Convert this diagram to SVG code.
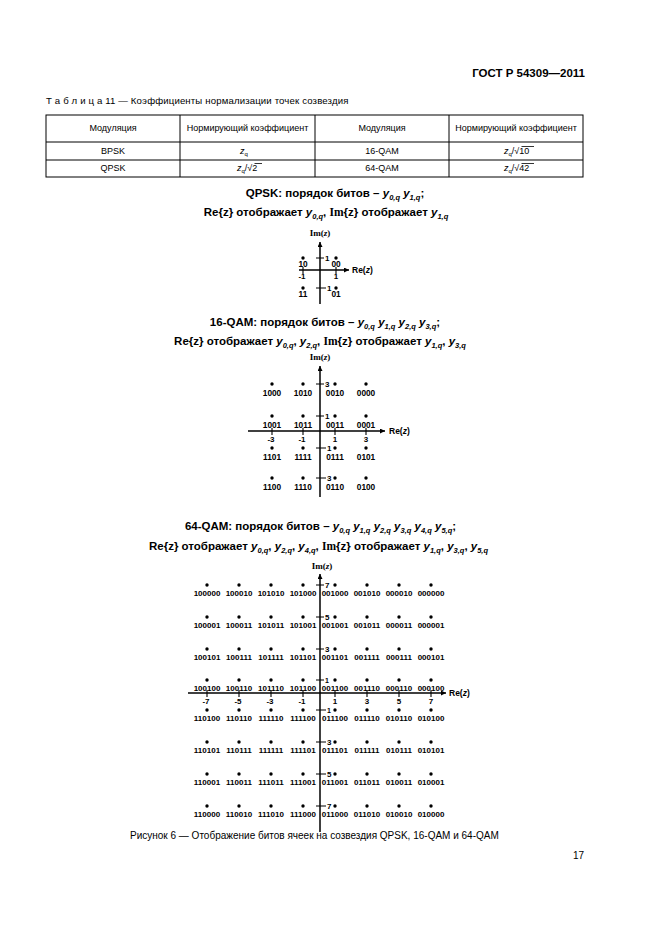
<svg xmlns="http://www.w3.org/2000/svg" width="661" height="936" viewBox="0 0 661 936">
<style>
text{font-family:"Liberation Sans",Arial,sans-serif;fill:#000}
.hdr{font-size:11.5px;font-weight:bold}
.cap{font-size:9.6px}
.th{font-size:9px;text-anchor:middle}
.td{font-size:9px;text-anchor:middle}
.t{font-size:11.5px;font-weight:bold;text-anchor:middle}
.v{font-style:italic}
.s{font-size:7.5px;font-style:italic}
.sr{font-family:"Liberation Serif",serif}
.l{font-size:8.3px;font-weight:bold;text-anchor:middle}
.l64{font-size:8px;font-weight:bold;text-anchor:middle}
.n{font-size:8px;font-weight:bold}
.ns{font-size:7px;font-weight:bold}
.nc{font-size:8px;font-weight:bold;text-anchor:middle}
.im{font-family:"Liberation Serif",serif;font-size:9px;font-weight:bold;text-anchor:middle}
.re{font-size:8.5px;font-weight:bold}
.ax{stroke:#000;stroke-width:1.5;fill:none}
.tk{stroke:#000;stroke-width:1.1}
.tb{stroke:#000;stroke-width:1;fill:none}
circle{fill:#000}
</style>
<defs>
<marker id="ah" viewBox="0 0 10 10" refX="10" refY="5" markerWidth="7" markerHeight="5" orient="auto" markerUnits="userSpaceOnUse"><path d="M0,0 L10,5 L0,10 z" fill="#000"/></marker>
</defs>

<text class="hdr" x="585" y="77" text-anchor="end">ГОСТ Р 54309—2011</text>

<g id="table">
<text class="cap" x="46" y="104" style="letter-spacing:0.15px">Т а б л и ц а  11 — Коэффициенты нормализации точек созвездия</text>
<rect class="tb" x="46" y="115" width="537" height="62"/>
<line class="tb" x1="46" y1="142" x2="583" y2="142"/>
<line class="tb" x1="46" y1="160" x2="583" y2="160"/>
<line class="tb" x1="180" y1="115" x2="180" y2="177"/>
<line class="tb" x1="315" y1="115" x2="315" y2="177"/>
<line class="tb" x1="449" y1="115" x2="449" y2="177"/>
<text class="th" x="113" y="131">Модуляция</text>
<text class="th" x="247.5" y="131">Нормирующий коэффициент</text>
<text class="th" x="382" y="131">Модуляция</text>
<text class="th" x="516" y="131">Нормирующий коэффициент</text>
<text class="td" x="113" y="154">BPSK</text>
<text class="td" x="382" y="154">16-QAM</text>
<text class="td" x="113" y="171">QPSK</text>
<text class="td" x="382" y="171">64-QAM</text>
<text style="font-size:9px" x="240" y="154"><tspan class="v">z</tspan><tspan style="font-size:6px" dy="2">q</tspan></text>
<text style="font-size:9px" x="237" y="171"><tspan class="v">z</tspan><tspan style="font-size:6px" dy="2">q</tspan><tspan dy="-2">/√2</tspan></text>
<line class="tk" x1="254.5" y1="163.5" x2="262" y2="163.5" style="stroke-width:0.8"/>
<text style="font-size:9px" x="504" y="154"><tspan class="v">z</tspan><tspan style="font-size:6px" dy="2">q</tspan><tspan dy="-2">/√10</tspan></text>
<line class="tk" x1="521.5" y1="146.5" x2="534" y2="146.5" style="stroke-width:0.8"/>
<text style="font-size:9px" x="504" y="171"><tspan class="v">z</tspan><tspan style="font-size:6px" dy="2">q</tspan><tspan dy="-2">/√42</tspan></text>
<line class="tk" x1="521.5" y1="163.5" x2="534" y2="163.5" style="stroke-width:0.8"/>
</g>

<g id="qpsk-title">
<text class="t" x="335" y="197">QPSK: порядок битов – <tspan class="v">y</tspan><tspan class="s" dy="2.5">0,q</tspan><tspan dy="-2.5"> </tspan><tspan class="v">y</tspan><tspan class="s" dy="2.5">1,q</tspan><tspan dy="-2.5">;</tspan></text>
<text class="t" x="326" y="216">Re{z} отображает <tspan class="v">y</tspan><tspan class="s" dy="2.5">0,q</tspan><tspan dy="-2.5">,  </tspan><tspan class="sr">Im</tspan>{z} отображает <tspan class="v">y</tspan><tspan class="s" dy="2.5">1,q</tspan></text>
</g>

<g id="connectors">
<line class="ax" x1="320" y1="304" x2="320" y2="242" marker-end="url(#ah)"/>
<line class="ax" x1="299" y1="270" x2="349" y2="270" marker-end="url(#ah)"/>
<line class="ax" x1="320" y1="497" x2="320" y2="366" marker-end="url(#ah)"/>
<line class="ax" x1="248" y1="431" x2="385" y2="431" marker-end="url(#ah)"/>
<line class="ax" x1="320" y1="832" x2="320" y2="574" marker-end="url(#ah)"/>
<line class="ax" x1="188" y1="693" x2="446" y2="693" marker-end="url(#ah)"/>
</g>

<g id="qpsk-axes-labels">
<text class="im" x="320" y="236">Im(<tspan class="v">z</tspan>)</text>
<text class="re" x="352" y="273">Re(<tspan class="v">z</tspan>)</text>
<path class="tk" d="M316,258H324M316,288H326M303,267V274M336,267V274"/>
<text class="n" x="325" y="261">1</text>
<text class="n" x="327" y="291">1</text>
<text class="nc" x="302" y="279">-1</text>
<text class="nc" x="336" y="279">1</text>
</g>
<g id="qpsk-10"><circle cx="303" cy="258" r="1.7"/><text class="l" x="303" y="267">10</text></g>
<g id="qpsk-00"><circle cx="336" cy="258" r="1.7"/><text class="l" x="336" y="267">00</text></g>
<g id="qpsk-11"><circle cx="303" cy="288" r="1.7"/><text class="l" x="303" y="297">11</text></g>
<g id="qpsk-01"><circle cx="336" cy="288" r="1.7"/><text class="l" x="336" y="297">01</text></g>

<g id="qam16-title">
<text class="t" x="325" y="326">16-QAM: порядок битов – <tspan class="v">y</tspan><tspan class="s" dy="2.5">0,q</tspan><tspan dy="-2.5"> </tspan><tspan class="v">y</tspan><tspan class="s" dy="2.5">1,q</tspan><tspan dy="-2.5"> </tspan><tspan class="v">y</tspan><tspan class="s" dy="2.5">2,q</tspan><tspan dy="-2.5"> </tspan><tspan class="v">y</tspan><tspan class="s" dy="2.5">3,q</tspan><tspan dy="-2.5">;</tspan></text>
<text class="t" x="320" y="345">Re{z} отображает <tspan class="v">y</tspan><tspan class="s" dy="2.5">0,q</tspan><tspan dy="-2.5">, </tspan><tspan class="v">y</tspan><tspan class="s" dy="2.5">2,q</tspan><tspan dy="-2.5">, </tspan><tspan class="sr">Im</tspan>{z} отображает <tspan class="v">y</tspan><tspan class="s" dy="2.5">1,q</tspan><tspan dy="-2.5">, </tspan><tspan class="v">y</tspan><tspan class="s" dy="2.5">3,q</tspan></text>
</g>

<g id="qam16-axes-labels">
<text class="im" x="320" y="360">Im(<tspan class="v">z</tspan>)</text>
<text class="re" x="389" y="434">Re(<tspan class="v">z</tspan>)</text>
<path class="tk" d="M316,384H324M316,416H324M316,448H326M316,478H326M272,428V435M303,428V435M335,428V435M366,428V435"/>
<text class="n" x="325" y="387">3</text>
<text class="n" x="325" y="419">1</text>
<text class="n" x="327" y="451">1</text>
<text class="n" x="327" y="481">3</text>
<text class="nc" x="271" y="442">-3</text>
<text class="nc" x="302" y="442">-1</text>
<text class="nc" x="335" y="442">1</text>
<text class="nc" x="366" y="442">3</text>
</g>
<g id="q16-1000"><circle cx="272" cy="384" r="1.7"/><text class="l" x="272" y="396">1000</text></g>
<g id="q16-1010"><circle cx="303" cy="384" r="1.7"/><text class="l" x="303" y="396">1010</text></g>
<g id="q16-0010"><circle cx="335" cy="384" r="1.7"/><text class="l" x="335" y="396">0010</text></g>
<g id="q16-0000"><circle cx="366" cy="384" r="1.7"/><text class="l" x="366" y="396">0000</text></g>
<g id="q16-1001"><circle cx="272" cy="416" r="1.7"/><text class="l" x="272" y="428">1001</text></g>
<g id="q16-1011"><circle cx="303" cy="416" r="1.7"/><text class="l" x="303" y="428">1011</text></g>
<g id="q16-0011"><circle cx="335" cy="416" r="1.7"/><text class="l" x="335" y="428">0011</text></g>
<g id="q16-0001"><circle cx="366" cy="416" r="1.7"/><text class="l" x="366" y="428">0001</text></g>
<g id="q16-1101"><circle cx="272" cy="448" r="1.7"/><text class="l" x="272" y="460">1101</text></g>
<g id="q16-1111"><circle cx="303" cy="448" r="1.7"/><text class="l" x="303" y="460">1111</text></g>
<g id="q16-0111"><circle cx="335" cy="448" r="1.7"/><text class="l" x="335" y="460">0111</text></g>
<g id="q16-0101"><circle cx="366" cy="448" r="1.7"/><text class="l" x="366" y="460">0101</text></g>
<g id="q16-1100"><circle cx="272" cy="478" r="1.7"/><text class="l" x="272" y="490">1100</text></g>
<g id="q16-1110"><circle cx="303" cy="478" r="1.7"/><text class="l" x="303" y="490">1110</text></g>
<g id="q16-0110"><circle cx="335" cy="478" r="1.7"/><text class="l" x="335" y="490">0110</text></g>
<g id="q16-0100"><circle cx="366" cy="478" r="1.7"/><text class="l" x="366" y="490">0100</text></g>

<g id="qam64-title">
<text class="t" x="320.5" y="530">64-QAM: порядок битов – <tspan class="v">y</tspan><tspan class="s" dy="2.5">0,q</tspan><tspan dy="-2.5"> </tspan><tspan class="v">y</tspan><tspan class="s" dy="2.5">1,q</tspan><tspan dy="-2.5"> </tspan><tspan class="v">y</tspan><tspan class="s" dy="2.5">2,q</tspan><tspan dy="-2.5"> </tspan><tspan class="v">y</tspan><tspan class="s" dy="2.5">3,q</tspan><tspan dy="-2.5"> </tspan><tspan class="v">y</tspan><tspan class="s" dy="2.5">4,q</tspan><tspan dy="-2.5"> </tspan><tspan class="v">y</tspan><tspan class="s" dy="2.5">5,q</tspan><tspan dy="-2.5">;</tspan></text>
<text class="t" x="318.5" y="550">Re{z} отображает <tspan class="v">y</tspan><tspan class="s" dy="2.5">0,q</tspan><tspan dy="-2.5">, </tspan><tspan class="v">y</tspan><tspan class="s" dy="2.5">2,q</tspan><tspan dy="-2.5">, </tspan><tspan class="v">y</tspan><tspan class="s" dy="2.5">4,q</tspan><tspan dy="-2.5">, </tspan><tspan class="sr">Im</tspan>{z} отображает <tspan class="v">y</tspan><tspan class="s" dy="2.5">1,q</tspan><tspan dy="-2.5">, </tspan><tspan class="v">y</tspan><tspan class="s" dy="2.5">3,q</tspan><tspan dy="-2.5">, </tspan><tspan class="v">y</tspan><tspan class="s" dy="2.5">5,q</tspan></text>
</g>

<g id="qam64-axes-labels">
<text class="im" x="322" y="569">Im(<tspan class="v">z</tspan>)</text>
<text class="re" x="449" y="696">Re(<tspan class="v">z</tspan>)</text>
<path class="tk" d="M316,585H324M316,617H324M316,649H324M316,680H324M316,710H326M316,742H326M316,774H326M316,806H326M207,690V697M239,690V697M271,690V697M303,690V697M335,690V697M367,690V697M399,690V697M431,690V697"/>
<text class="n" x="325" y="588">7</text>
<text class="n" x="325" y="620">5</text>
<text class="n" x="325" y="652">3</text>
<text class="ns" x="325" y="682.5">1</text>
<text class="ns" x="327" y="712.5">1</text>
<text class="n" x="327" y="745">3</text>
<text class="n" x="327" y="777">5</text>
<text class="n" x="327" y="809">7</text>
<text class="nc" x="206" y="704">-7</text>
<text class="nc" x="238" y="704">-5</text>
<text class="nc" x="270" y="704">-3</text>
<text class="nc" x="302" y="704">-1</text>
<text class="nc" x="335" y="704">1</text>
<text class="nc" x="367" y="704">3</text>
<text class="nc" x="399" y="704">5</text>
<text class="nc" x="431" y="704">7</text>
</g>

<g id="q64-100000"><circle cx="207" cy="585" r="1.7"/><text class="l64" x="207" y="596">100000</text></g>
<g id="q64-100010"><circle cx="239" cy="585" r="1.7"/><text class="l64" x="239" y="596">100010</text></g>
<g id="q64-101010"><circle cx="271" cy="585" r="1.7"/><text class="l64" x="271" y="596">101010</text></g>
<g id="q64-101000"><circle cx="303" cy="585" r="1.7"/><text class="l64" x="303" y="596">101000</text></g>
<g id="q64-001000"><circle cx="335" cy="585" r="1.7"/><text class="l64" x="335" y="596">001000</text></g>
<g id="q64-001010"><circle cx="367" cy="585" r="1.7"/><text class="l64" x="367" y="596">001010</text></g>
<g id="q64-000010"><circle cx="399" cy="585" r="1.7"/><text class="l64" x="399" y="596">000010</text></g>
<g id="q64-000000"><circle cx="431" cy="585" r="1.7"/><text class="l64" x="431" y="596">000000</text></g>

<g id="q64-100001"><circle cx="207" cy="617" r="1.7"/><text class="l64" x="207" y="628">100001</text></g>
<g id="q64-100011"><circle cx="239" cy="617" r="1.7"/><text class="l64" x="239" y="628">100011</text></g>
<g id="q64-101011"><circle cx="271" cy="617" r="1.7"/><text class="l64" x="271" y="628">101011</text></g>
<g id="q64-101001"><circle cx="303" cy="617" r="1.7"/><text class="l64" x="303" y="628">101001</text></g>
<g id="q64-001001"><circle cx="335" cy="617" r="1.7"/><text class="l64" x="335" y="628">001001</text></g>
<g id="q64-001011"><circle cx="367" cy="617" r="1.7"/><text class="l64" x="367" y="628">001011</text></g>
<g id="q64-000011"><circle cx="399" cy="617" r="1.7"/><text class="l64" x="399" y="628">000011</text></g>
<g id="q64-000001"><circle cx="431" cy="617" r="1.7"/><text class="l64" x="431" y="628">000001</text></g>

<g id="q64-100101"><circle cx="207" cy="649" r="1.7"/><text class="l64" x="207" y="660">100101</text></g>
<g id="q64-100111"><circle cx="239" cy="649" r="1.7"/><text class="l64" x="239" y="660">100111</text></g>
<g id="q64-101111"><circle cx="271" cy="649" r="1.7"/><text class="l64" x="271" y="660">101111</text></g>
<g id="q64-101101"><circle cx="303" cy="649" r="1.7"/><text class="l64" x="303" y="660">101101</text></g>
<g id="q64-001101"><circle cx="335" cy="649" r="1.7"/><text class="l64" x="335" y="660">001101</text></g>
<g id="q64-001111"><circle cx="367" cy="649" r="1.7"/><text class="l64" x="367" y="660">001111</text></g>
<g id="q64-000111"><circle cx="399" cy="649" r="1.7"/><text class="l64" x="399" y="660">000111</text></g>
<g id="q64-000101"><circle cx="431" cy="649" r="1.7"/><text class="l64" x="431" y="660">000101</text></g>

<g id="q64-100100"><circle cx="207" cy="680" r="1.7"/><text class="l64" x="207" y="691">100100</text></g>
<g id="q64-100110"><circle cx="239" cy="680" r="1.7"/><text class="l64" x="239" y="691">100110</text></g>
<g id="q64-101110"><circle cx="271" cy="680" r="1.7"/><text class="l64" x="271" y="691">101110</text></g>
<g id="q64-101100"><circle cx="303" cy="680" r="1.7"/><text class="l64" x="303" y="691">101100</text></g>
<g id="q64-001100"><circle cx="335" cy="680" r="1.7"/><text class="l64" x="335" y="691">001100</text></g>
<g id="q64-001110"><circle cx="367" cy="680" r="1.7"/><text class="l64" x="367" y="691">001110</text></g>
<g id="q64-000110"><circle cx="399" cy="680" r="1.7"/><text class="l64" x="399" y="691">000110</text></g>
<g id="q64-000100"><circle cx="431" cy="680" r="1.7"/><text class="l64" x="431" y="691">000100</text></g>

<g id="q64-110100"><circle cx="207" cy="710" r="1.7"/><text class="l64" x="207" y="721">110100</text></g>
<g id="q64-110110"><circle cx="239" cy="710" r="1.7"/><text class="l64" x="239" y="721">110110</text></g>
<g id="q64-111110"><circle cx="271" cy="710" r="1.7"/><text class="l64" x="271" y="721">111110</text></g>
<g id="q64-111100"><circle cx="303" cy="710" r="1.7"/><text class="l64" x="303" y="721">111100</text></g>
<g id="q64-011100"><circle cx="335" cy="710" r="1.7"/><text class="l64" x="335" y="721">011100</text></g>
<g id="q64-011110"><circle cx="367" cy="710" r="1.7"/><text class="l64" x="367" y="721">011110</text></g>
<g id="q64-010110"><circle cx="399" cy="710" r="1.7"/><text class="l64" x="399" y="721">010110</text></g>
<g id="q64-010100"><circle cx="431" cy="710" r="1.7"/><text class="l64" x="431" y="721">010100</text></g>

<g id="q64-110101"><circle cx="207" cy="742" r="1.7"/><text class="l64" x="207" y="753">110101</text></g>
<g id="q64-110111"><circle cx="239" cy="742" r="1.7"/><text class="l64" x="239" y="753">110111</text></g>
<g id="q64-111111"><circle cx="271" cy="742" r="1.7"/><text class="l64" x="271" y="753">111111</text></g>
<g id="q64-111101"><circle cx="303" cy="742" r="1.7"/><text class="l64" x="303" y="753">111101</text></g>
<g id="q64-011101"><circle cx="335" cy="742" r="1.7"/><text class="l64" x="335" y="753">011101</text></g>
<g id="q64-011111"><circle cx="367" cy="742" r="1.7"/><text class="l64" x="367" y="753">011111</text></g>
<g id="q64-010111"><circle cx="399" cy="742" r="1.7"/><text class="l64" x="399" y="753">010111</text></g>
<g id="q64-010101"><circle cx="431" cy="742" r="1.7"/><text class="l64" x="431" y="753">010101</text></g>

<g id="q64-110001"><circle cx="207" cy="774" r="1.7"/><text class="l64" x="207" y="785">110001</text></g>
<g id="q64-110011"><circle cx="239" cy="774" r="1.7"/><text class="l64" x="239" y="785">110011</text></g>
<g id="q64-111011"><circle cx="271" cy="774" r="1.7"/><text class="l64" x="271" y="785">111011</text></g>
<g id="q64-111001"><circle cx="303" cy="774" r="1.7"/><text class="l64" x="303" y="785">111001</text></g>
<g id="q64-011001"><circle cx="335" cy="774" r="1.7"/><text class="l64" x="335" y="785">011001</text></g>
<g id="q64-011011"><circle cx="367" cy="774" r="1.7"/><text class="l64" x="367" y="785">011011</text></g>
<g id="q64-010011"><circle cx="399" cy="774" r="1.7"/><text class="l64" x="399" y="785">010011</text></g>
<g id="q64-010001"><circle cx="431" cy="774" r="1.7"/><text class="l64" x="431" y="785">010001</text></g>

<g id="q64-110000"><circle cx="207" cy="806" r="1.7"/><text class="l64" x="207" y="817">110000</text></g>
<g id="q64-110010"><circle cx="239" cy="806" r="1.7"/><text class="l64" x="239" y="817">110010</text></g>
<g id="q64-111010"><circle cx="271" cy="806" r="1.7"/><text class="l64" x="271" y="817">111010</text></g>
<g id="q64-111000"><circle cx="303" cy="806" r="1.7"/><text class="l64" x="303" y="817">111000</text></g>
<g id="q64-011000"><circle cx="335" cy="806" r="1.7"/><text class="l64" x="335" y="817">011000</text></g>
<g id="q64-011010"><circle cx="367" cy="806" r="1.7"/><text class="l64" x="367" y="817">011010</text></g>
<g id="q64-010010"><circle cx="399" cy="806" r="1.7"/><text class="l64" x="399" y="817">010010</text></g>
<g id="q64-010000"><circle cx="431" cy="806" r="1.7"/><text class="l64" x="431" y="817">010000</text></g>

<text style="font-size:10px" x="130" y="839">Рисунок 6 — Отображение битов ячеек на созвездия QPSK, 16-QAM и 64-QAM</text>
<text style="font-size:10px" x="584" y="859" text-anchor="end">17</text>
</svg>
